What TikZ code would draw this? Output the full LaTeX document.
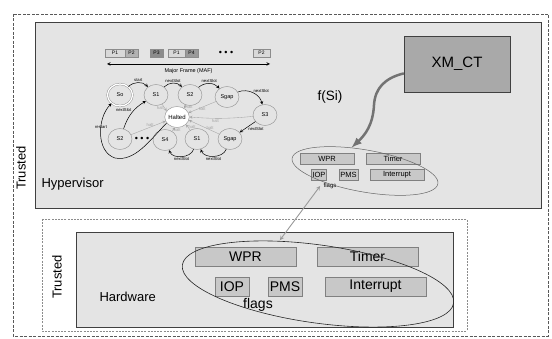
\documentclass[tikz,border=0pt]{standalone}
\usepackage{fontspec}
\setmainfont{Liberation Sans}
\usetikzlibrary{calc,shapes.geometric}

\definecolor{layergray}{HTML}{E4E4E4}
\definecolor{compgray}{HTML}{C8C8C8}
\definecolor{ctgray}{HTML}{A9A9A9}
\definecolor{haltgray}{HTML}{A3A3A3}

\begin{document}
\begin{tikzpicture}[x=1pt,y=-1pt]
\tikzstyle{trust}=[draw=black!65,dash pattern=on 3pt off 1.5pt,line width=0.6pt]
\tikzstyle{layer}=[draw=black!75,fill=layergray,line width=0.8pt]
\tikzstyle{comp}=[draw=black!50,fill=compgray,inner sep=0pt]
\tikzstyle{slot}=[draw=black!45,inner sep=0pt,minimum height=8pt,font=\fontsize{5}{6}\selectfont]
\tikzstyle{state}=[ellipse,draw=black!45,fill=layergray,minimum width=24pt,minimum height=21pt,inner sep=0pt,line width=0.4pt,font=\fontsize{5.5}{6}\selectfont]
\tikzstyle{trans}=[->,>=stealth,line width=0.5pt,black]
\tikzstyle{halt}=[->,>=stealth,line width=0.35pt,color=haltgray]
\tikzstyle{lbl}=[font=\fontsize{4.2}{5}\selectfont,inner sep=0.5pt]
\tikzstyle{big}=[font=\fontsize{13}{15}\selectfont]

\useasboundingbox (0,0) rectangle (552,339);

% ========= trusted zones and layers
\draw [trust] (13,14) rectangle (548,336);
\draw [layer] (35,22) rectangle (541,208);
\draw [trust,draw=black!45,dash pattern=on 2pt off 1.2pt] (42,219) rectangle (467,331);
\draw [layer] (76,232) rectangle (453,327);

\node (trusthv) [big,rotate=90] at (21,168) {Trusted};
\node (hvname) [big,anchor=west] at (38,184) {Hypervisor};
\node (trusthw) [big,rotate=90] at (57,277) {Trusted};
\node (hwname) [big,anchor=west] at (96,297) {Hardware};

% ========= partition plan
\node (p1a) [slot,fill=black!15,minimum width=20pt] at (115,53) {P1};
\node (p2a) [slot,fill=black!30,minimum width=13pt] at (131.5,53) {P2};
\node (p3) [slot,fill=black!45,minimum width=13pt] at (156.5,53) {P3};
\node (p1b) [slot,fill=black!15,minimum width=17pt] at (176.5,53) {P1};
\node (p4) [slot,fill=black!40,minimum width=13pt] at (191.5,53) {P4};
\node (pdots) [font=\fontsize{9}{9}\selectfont] at (226,53) {• • •};
\node (p2b) [slot,fill=black!15,minimum width=17pt] at (261.5,53) {P2};
\coordinate (mafl) at (107,64);
\coordinate (mafr) at (270,64);
\draw [<->,>=stealth,line width=0.6pt] (mafl) -- node [below=0.5pt,font=\fontsize{5.5}{6}\selectfont] {Major Frame (MAF)} (mafr);

% ========= states
\node (s0) [state,double,double distance=1.3pt,minimum width=25pt,minimum height=22pt] at (120,95) {So};
\node (s1) [state] at (156,95) {S1};
\node (s2) [state] at (190,95) {S2};
\node (sgapa) [state] at (227,97) {Sgap};
\node (s3) [state] at (265,115) {S3};
\node (halted) [state,fill=white,font=\fontsize{6}{6}\selectfont] at (177,117) {Halted};
\node (s2b) [state] at (120,139) {S2};
\node (sdots) [font=\fontsize{9}{9}\selectfont] at (142,139) {• • •};
\node (s4) [state] at (165,140) {S4};
\node (s1b) [state] at (197,139) {S1};
\node (sgapb) [state] at (230,139) {Sgap};

% ====== transitions
\draw [halt] (s1) -- node [lbl,left] {halt} (halted.150);
\draw [halt] (s2) -- node [lbl,right] {halt} (halted.50);
\draw [halt] (sgapa) -- node [lbl,below] {halt} (halted.20);
\draw [halt] (s3) to[bend left=5] node [lbl,below,pos=0.6] {halt} (halted.0);
\draw [halt] (sgapb) -- node [lbl,above,pos=0.3] {halt} (halted.-15);
\draw [halt] (s1b) -- node [lbl,right] {halt} (halted.-40);
\draw [halt] (s4) -- node [lbl,right,pos=0.3] {halt} (halted.-100);
\draw [halt] (s2b) -- node [lbl,above,pos=0.55] {halt} (halted.200);

\draw [trans] (s0) to[bend left=45] node [lbl,above] {start} (s1);
\draw [trans] (s1) to[bend left=45] node [lbl,above] {nextSlot} (s2);
\draw [trans] (s2) to[bend left=45] node [lbl,above] {nextSlot} (sgapa);
\draw [trans] (sgapa) to[bend left=50] node [lbl,above right] {nextSlot} (s3);
\draw [trans] (s3) -- node [lbl,below right] {nextSlot} (sgapb);
\draw [trans] (sgapb) to[bend left=70] node [lbl,below] {nextSlot} (s1b);
\draw [trans] (s1b) to[bend left=70] node [lbl,below] {nextSlot} (s4);
\draw [trans] (s2b) to[bend left=20] node [lbl,above left] {nextSlot} (s1);
\draw [trans] (halted.210) .. controls (150,140) and (135,162) .. (115,158) .. controls (96,152) and (97,118) .. node [lbl,pos=0.6] {restart} (s0.225);

% ========= XM_CT and flags
\node (xmct) [draw=black!75,fill=ctgray,minimum width=106pt,minimum height=56pt,font=\fontsize{15}{17}\selectfont] at (457,64) {XM\_CT};
\node (fsi) [font=\fontsize{13.5}{15}\selectfont] at (330,97) {f(Si)};

\node (hvwpr) [comp,minimum width=54pt,minimum height=11pt,font=\fontsize{7.5}{8}\selectfont] at (327,158.5) {WPR};
\node (hvtimer) [comp,minimum width=54pt,minimum height=11pt,font=\fontsize{7.5}{8}\selectfont] at (393,158.5) {Timer};
\node (hviop) [comp,minimum width=15pt,minimum height=11pt,font=\fontsize{7.5}{8}\selectfont] at (319,174.5) {IOP};
\node (hvpms) [comp,minimum width=19pt,minimum height=11pt,font=\fontsize{7.5}{8}\selectfont] at (348.5,174.5) {PMS};
\node (hvint) [comp,minimum width=54pt,minimum height=11pt,font=\fontsize{7.5}{8}\selectfont] at (397,174.5) {Interrupt};
\node (hvflagtxt) [font=\fontsize{6}{6}\selectfont] at (330,186) {flags};
\node (hvflags) [ellipse,draw=black!60,line width=0.5pt,minimum width=148pt,minimum height=42pt,inner sep=0pt,rotate=-10] at (365,171) {};

\node (hwwpr) [comp,minimum width=101pt,minimum height=19pt,font=\fontsize{14}{15}\selectfont] at (245.5,256.5) {WPR};
\node (hwtimer) [comp,minimum width=101pt,minimum height=19pt,font=\fontsize{14}{15}\selectfont] at (367.5,256.5) {Timer};
\node (hwiop) [comp,minimum width=34pt,minimum height=19pt,font=\fontsize{14}{15}\selectfont] at (232,286.5) {IOP};
\node (hwpms) [comp,minimum width=34pt,minimum height=19pt,font=\fontsize{14}{15}\selectfont] at (285,286.5) {PMS};
\node (hwint) [comp,minimum width=101pt,minimum height=19pt,font=\fontsize{14}{15}\selectfont] at (375.5,286.5) {Interrupt};
\node (hwflagtxt) [font=\fontsize{14}{15}\selectfont] at (258,305) {flags};
\node (hwflags) [ellipse,draw=black!85,line width=0.6pt,minimum width=274pt,minimum height=78pt,inner sep=0pt,rotate=-8] at (318,284) {};

% ====== connections
\draw [line width=2.5pt,draw=black!55,-latex] (xmct.190) .. controls (385,78) and (375,88) .. (374,105) .. controls (373,125) and (365,135) .. (hvflags.130);
\draw [<->,>=stealth,line width=0.9pt,draw=black!40,shorten <=1pt] (hwflags.140) -- (hvflagtxt.west);
\end{tikzpicture}
\end{document}
